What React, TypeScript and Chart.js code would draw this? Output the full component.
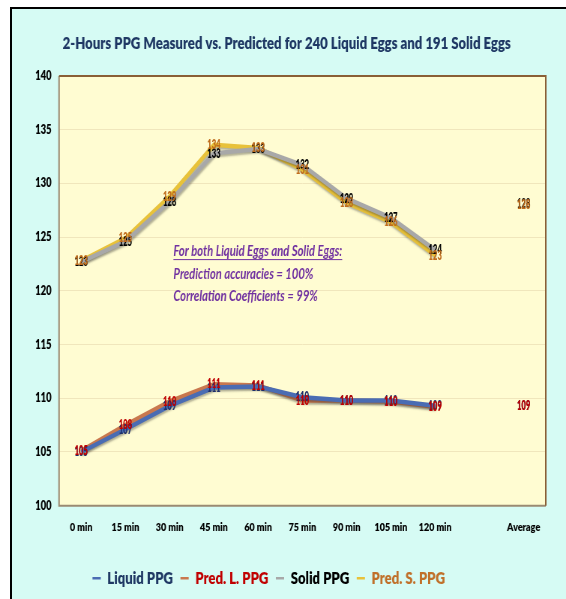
import React, { useEffect, useRef } from "react";
import { Chart, registerables } from "chart.js";

Chart.register(...registerables);

const categories = ["0 min", "15 min", "30 min", "45 min", "60 min", "75 min", "90 min", "105 min", "120 min", "", "Average"];
const liquidPPG = [105.0, 107.1, 109.3, 111.0, 111.1, 110.1, 109.8, 109.8, 109.3, null, 109.3];
const predLPPG = [105.1, 107.5, 109.7, 111.3, 111.2, 109.8, 109.8, 109.7, 109.2, null, 109.3];
const solidPPG = [122.7, 124.6, 128.3, 132.8, 133.2, 131.7, 128.6, 126.8, 123.8, null, 128.1];
const predSPPG = [122.8, 124.9, 128.8, 133.6, 133.3, 131.3, 128.2, 126.4, 123.3, null, 128.0];
const seriesNames = ["Liquid PPG", "Pred. L. PPG", "Solid PPG", "Pred. S. PPG"];
const yTicks = [100, 105, 110, 115, 120, 125, 130, 135, 140];
const noteLines = ["For both Liquid Eggs and Solid Eggs:", "Prediction accuracies = 100%", "Correlation Coefficients = 99%"];
const noteValues = [123.7, 121.6, 119.5];
const titleText = "2-Hours PPG Measured vs. Predicted for 240 Liquid Eggs and 191 Solid Eggs";

// The reference is horizontally squeezed: draw on a wider canvas shown at 566px.
const PAGE_W = 566;
const PAGE_H = 599;
const SQUEEZE = 0.75;
const CANVAS_W = Math.round(PAGE_W / SQUEEZE);

const FONT = "Lato, 'Liberation Sans', sans-serif";
const W = "800";
const lineColors = ["#4a6cb3", "#c9784e", "#a8a8a8", "#e8c23a"];
const labelColors = ["#1f2f6a", "#c00000", "#000000", "#bf6c1c"];
const legendTextColors = ["#1f3864", "#c00000", "#000000", "#c0702a"];

const bgPlugin = {
  id: "bgPlugin",
  afterLayout(chart: any) {
    if (chart.legend) {
      chart.legend.left -= 24;
      chart.legend.right -= 24;
    }
  },
  beforeDraw(chart: any) {
    const { ctx, chartArea: a } = chart;
    ctx.save();
    ctx.fillStyle = "#fffcd2";
    ctx.fillRect(a.left, a.top, a.right - a.left, a.bottom - a.top);
    ctx.restore();
  },
  beforeDatasetDraw(chart: any) {
    const { ctx } = chart;
    ctx.save();
    ctx.shadowColor = "rgba(40,40,40,0.35)";
    ctx.shadowOffsetX = 1;
    ctx.shadowOffsetY = 2;
    ctx.shadowBlur = 2;
  },
  afterDatasetDraw(chart: any) {
    chart.ctx.restore();
  },
  afterDraw(chart: any) {
    const { ctx, chartArea: a } = chart;
    ctx.save();
    ctx.strokeStyle = "#9a8a72";
    ctx.lineWidth = 2;
    ctx.beginPath();
    ctx.moveTo(a.left, a.top);
    ctx.lineTo(a.left, a.bottom);
    ctx.lineTo(a.right, a.bottom);
    ctx.stroke();
    ctx.strokeStyle = "#8a5f36";
    ctx.beginPath();
    ctx.moveTo(a.left, a.top);
    ctx.lineTo(a.right, a.top);
    ctx.lineTo(a.right, a.bottom);
    ctx.stroke();
    ctx.restore();
  },
};

const labelPlugin = {
  id: "labelPlugin",
  afterDatasetsDraw(chart: any) {
    const { ctx } = chart;
    ctx.save();
    ctx.font = `${W} 13px ${FONT}`;
    ctx.textAlign = "center";
    ctx.textBaseline = "middle";
    chart.data.datasets.forEach((ds: any, i: number) => {
      const meta = chart.getDatasetMeta(i);
      meta.data.forEach((pt: any, j: number) => {
        const v = ds.data[j];
        if (v === null || v === undefined) return;
        const t = String(Math.round(v));
        const w = ctx.measureText(t).width;
        ctx.fillStyle = labelColors[i];
        ctx.fillText(t, pt.x, pt.y, w * 0.78);
      });
    });
    ctx.restore();
  },
};

const notePlugin = {
  id: "notePlugin",
  afterDatasetsDraw(chart: any) {
    const { ctx, scales } = chart;
    const x0 = scales.x.getPixelForValue(2) + 5;
    ctx.save();
    ctx.font = `italic bold 15px ${FONT}`;
    ctx.fillStyle = "#7030a0";
    ctx.textAlign = "left";
    ctx.textBaseline = "middle";
    noteLines.forEach((t, i) => {
      const y = scales.y.getPixelForValue(noteValues[i]);
      ctx.fillText(t, x0, y);
      if (i === 0) {
        const w = ctx.measureText(t).width;
        ctx.strokeStyle = "#7030a0";
        ctx.lineWidth = 1;
        ctx.beginPath();
        ctx.moveTo(x0, y + 8.5);
        ctx.lineTo(x0 + w, y + 8.5);
        ctx.stroke();
      }
    });
    ctx.restore();
  },
};

export default function App() {
  const ref = useRef<HTMLCanvasElement>(null);
  useEffect(() => {
    if (!ref.current) return;
    const all = [liquidPPG, predLPPG, solidPPG, predSPPG];
    const chart = new Chart(ref.current, {
      type: "line",
      data: {
        labels: categories,
        datasets: all.map((d, i) => ({
          label: seriesNames[i],
          data: d,
          borderColor: lineColors[i],
          backgroundColor: lineColors[i],
          borderWidth: 4.5,
          pointRadius: 0,
          tension: 0,
          spanGaps: false,
        })),
      },
      options: {
        animation: false,
        responsive: false,
        devicePixelRatio: 1,
        layout: { padding: { left: 37, right: 27, top: 33, bottom: 2 } },
        plugins: {
          title: {
            display: true,
            text: titleText,
            color: "#1f3864",
            font: { family: FONT, size: 17.5, weight: W },
            padding: { top: 0, bottom: 22 },
          },
          legend: {
            position: "bottom",
            labels: {
              usePointStyle: true,
              pointStyle: "line",
              pointStyleWidth: 11,
              boxWidth: 11,
              padding: 10,
              font: { family: FONT, size: 17.5, weight: W },
              generateLabels: (c: any) =>
                c.data.datasets.map((ds: any, i: number) => ({
                  text: ds.label,
                  fillStyle: lineColors[i],
                  strokeStyle: lineColors[i],
                  lineWidth: 2.5,
                  pointStyle: "line",
                  fontColor: legendTextColors[i],
                  hidden: false,
                  datasetIndex: i,
                })),
            },
          },
          tooltip: { enabled: false },
        },
        scales: {
          x: {
            offset: true,
            grid: { display: false, drawTicks: false },
            border: { display: false },
            title: { display: true, text: "", font: { size: 9 }, padding: { top: 0, bottom: 0 } },
            ticks: {
              color: "#000",
              padding: 14.3,
              maxRotation: 0,
              autoSkip: false,
              font: { family: FONT, size: 12, weight: W },
            },
          },
          y: {
            min: 100,
            max: 140,
            afterBuildTicks: (s: any) => {
              s.ticks = yTicks.map((v) => ({ value: v }));
            },
            grid: { color: "#f0e6bc", drawTicks: false },
            border: { display: false },
            ticks: {
              color: "#000",
              padding: 10,
              font: { family: FONT, size: 12.5, weight: W },
            },
          },
        },
      },
      plugins: [bgPlugin, labelPlugin, notePlugin],
    });
    return () => chart.destroy();
  }, []);

  return (
    <div style={{ position: "fixed", left: 0, top: 0, width: PAGE_W, height: PAGE_H, background: "#ffffff", overflow: "hidden" }}>
      <div
        style={{
          position: "absolute",
          left: 10,
          top: 7,
          width: 570,
          height: 610,
          background: "#d6fbf4",
          borderLeft: "2px solid #000",
          borderTop: "2px solid #000",
        }}
      />
      <canvas
        ref={ref}
        width={CANVAS_W}
        height={PAGE_H}
        style={{ position: "absolute", left: 0, top: 0, width: PAGE_W + "px", height: PAGE_H + "px" }}
      />
    </div>
  );
}
